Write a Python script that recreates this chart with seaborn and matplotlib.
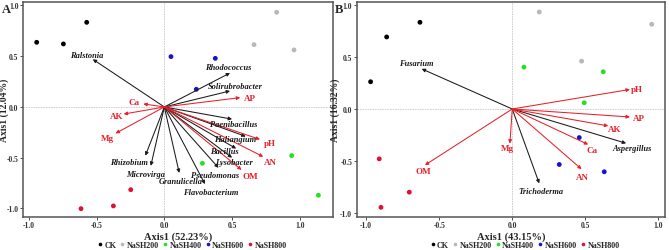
import matplotlib
matplotlib.use("Agg")
import matplotlib.pyplot as plt
import seaborn as sns
import pandas as pd

# ---------------- data ----------------
groups = ["CK", "NaSH200", "NaSH400", "NaSH600", "NaSH800"]
group_colors = ["#000000", "#b8b8b8", "#22e022", "#1414cc", "#e01030"]

# Panel A sample scores
a_group = ["CK"] * 3 + ["NaSH200"] * 3 + ["NaSH400"] * 3 + ["NaSH600"] * 3 + ["NaSH800"] * 3
a_x = [-0.942, -0.745, -0.573, 0.829, 0.662, 0.957, 0.281, 0.940, 1.137,
       0.049, 0.376, 0.236, -0.248, -0.376, -0.615]
a_y = [0.637, 0.621, 0.834, 0.933, 0.614, 0.562, -0.555, -0.479, -0.870,
       0.496, 0.479, 0.174, -0.815, -0.975, -1.002]

# Panel A species arrows
a_sp_names = ["Ralstonia", "Rhodococcus", "Solirubrobacter", "Paenibacillus", "Haliangium",
              "Bacillus", "Lysobacter", "Pseudomonas", "Flavobacterium", "Granulicella",
              "Microvirga", "Rhizobium"]
a_sp_x = [-0.528, 0.485, 0.485, 0.50, 0.60, 0.53, 0.50, 0.40, 0.30, 0.11, -0.10, -0.14]
a_sp_y = [0.470, 0.335, 0.158, -0.12, -0.29, -0.41, -0.50, -0.60, -0.76, -0.65, -0.58, -0.48]
a_sp_lx = [-0.57, 0.468, 0.52, 0.51, 0.52, 0.44, 0.51, 0.374, 0.34, 0.12, -0.14, -0.26]
a_sp_ly = [0.51, 0.397, 0.21, -0.165, -0.32, -0.43, -0.545, -0.67, -0.835, -0.73, -0.66, -0.545]

# Panel A environmental arrows
a_env_names = ["AP", "Ca", "AK", "Mg", "pH", "AN", "OM"]
a_env_x = [0.56, -0.155, -0.30, -0.36, 0.706, 0.73, 0.57]
a_env_y = [0.092, 0.03, -0.07, -0.26, -0.32, -0.49, -0.62]
a_env_lx = [0.635, -0.22, -0.35, -0.42, 0.78, 0.78, 0.635]
a_env_ly = [0.085, 0.045, -0.086, -0.31, -0.355, -0.545, -0.685]

# Panel B sample scores
b_group = ["CK"] * 3 + ["NaSH200"] * 3 + ["NaSH400"] * 3 + ["NaSH600"] * 3 + ["NaSH800"] * 3
b_x = [-0.632, -0.86, -0.97, 0.185, 0.955, 0.475, 0.08, 0.623, 0.493,
       0.459, 0.322, 0.63, -0.911, -0.705, -0.899]
b_y = [0.834, 0.693, 0.262, 0.933, 0.815, 0.46, 0.403, 0.358, 0.06,
       -0.275, -0.534, -0.604, -0.48, -0.80, -0.946]

# Panel B species arrows
b_sp_names = ["Fusarium", "Aspergillus", "Trichoderma"]
b_sp_x = [-0.62, 0.78, 0.185]
b_sp_y = [0.386, -0.33, -0.716]
b_sp_lx = [-0.655, 0.82, 0.20]
b_sp_ly = [0.44, -0.375, -0.79]

# Panel B environmental arrows
b_env_names = ["pH", "AP", "AK", "Ca", "AN", "Mg", "OM"]
b_env_x = [0.806, 0.806, 0.658, 0.52, 0.475, -0.016, -0.598]
b_env_y = [0.188, -0.077, -0.163, -0.342, -0.579, -0.333, -0.54]
b_env_lx = [0.85, 0.865, 0.70, 0.55, 0.48, -0.03, -0.61]
b_env_ly = [0.195, -0.083, -0.19, -0.397, -0.652, -0.38, -0.594]

ticks = [-1.0, -0.5, 0.0, 0.5, 1.0]
tick_labels = ["-1.0", "-0.5", "0.0", "0.5", "1.0"]

# ---------------- style ----------------
sns.set_theme(style="white")
plt.rcParams["font.family"] = ["Liberation Serif", "DejaVu Serif"]
plt.rcParams["font.weight"] = "bold"
plt.rcParams["axes.unicode_minus"] = False

fig = plt.figure(figsize=(6.69, 2.51), dpi=100)
axA = fig.add_axes([0.0344, 0.1315, 0.4634, 0.8565])
axB = fig.add_axes([0.533, 0.1315, 0.461, 0.8565])

palette = dict(zip(groups, group_colors))
SP_COLOR = "#1a1a1a"
ENV_COLOR = "#e8202a"


def panel(ax, gx, gy, gg, spn, spx, spy, splx, sply, en, ex, ey, elx, ely,
          xlim, ylim, xlabel, ylabel, ylab_x):
    df = pd.DataFrame({"x": gx, "y": gy, "group": gg})
    ax.axhline(0, color="#c8c8c8", lw=0.6, ls=(0, (2, 1)), zorder=0)
    ax.axvline(0, color="#c8c8c8", lw=0.6, ls=(0, (2, 1)), zorder=0)
    sns.scatterplot(data=df, x="x", y="y", hue="group", hue_order=groups,
                    palette=palette, s=12, linewidth=0, ax=ax, zorder=3)
    for n, x, y, lx, ly in zip(spn, spx, spy, splx, sply):
        ax.annotate("", xy=(x, y), xytext=(0, 0),
                    arrowprops=dict(arrowstyle="-|>", color=SP_COLOR, lw=0.75,
                                    mutation_scale=5, shrinkA=0, shrinkB=0))
        ax.text(lx, ly, n, ha="center", va="center", fontsize=6,
                fontstyle="italic", fontweight="bold", color=SP_COLOR, zorder=4)
    for n, x, y, lx, ly in zip(en, ex, ey, elx, ely):
        ax.annotate("", xy=(x, y), xytext=(0, 0),
                    arrowprops=dict(arrowstyle="-|>", color=ENV_COLOR, lw=0.75,
                                    mutation_scale=5, shrinkA=0, shrinkB=0))
        ax.text(lx, ly, n, ha="center", va="center", fontsize=6.5,
                fontweight="bold", color=ENV_COLOR, zorder=4)
    ax.set_xlim(*xlim)
    ax.set_ylim(*ylim)
    ax.set_xticks(ticks)
    ax.set_xticklabels(tick_labels)
    ax.set_yticks(ticks)
    ax.set_yticklabels(tick_labels)
    ax.tick_params(axis="both", labelsize=5.5, length=2, width=0.6, pad=1.2,
                   colors="#333333", bottom=True, left=True)
    for t in ax.get_xticklabels() + ax.get_yticklabels():
        t.set_fontweight("bold")
    ax.set_xlabel(xlabel, fontsize=7.5, fontweight="bold", labelpad=1.5)
    ax.set_ylabel(ylabel, fontsize=7, fontweight="bold")
    ax.yaxis.set_label_coords(ylab_x, 0.5)
    for s in ax.spines.values():
        s.set_color("#555555")
        s.set_linewidth(1.1)
    sns.move_legend(ax, "center", bbox_to_anchor=(0.547, -0.128), ncol=5,
                    frameon=False, title=None, fontsize=5.8, handletextpad=0.35,
                    handlelength=0.4, columnspacing=0.55, markerscale=0.75,
                    borderaxespad=0, borderpad=0)
    for t in ax.get_legend().get_texts():
        t.set_fontweight("bold")


panel(axA, a_x, a_y, a_group, a_sp_names, a_sp_x, a_sp_y, a_sp_lx, a_sp_ly,
      a_env_names, a_env_x, a_env_y, a_env_lx, a_env_ly,
      (-1.043, 1.245), (-1.084, 1.034), "Axis1 (52.23%)", "Axis1 (12.04%)", -0.045)
panel(axB, b_x, b_y, b_group, b_sp_names, b_sp_x, b_sp_y, b_sp_lx, b_sp_ly,
      b_env_names, b_env_x, b_env_y, b_env_lx, b_env_ly,
      (-1.066, 1.046), (-1.039, 1.029), "Axis1 (43.15%)", "Axis1 (16.32%)", -0.055)

fig.text(6 / 669, 1 - 10 / 251, "A", fontsize=9, fontweight="bold",
         ha="center", va="center")
fig.text(339.5 / 669, 1 - 10 / 251, "B", fontsize=9, fontweight="bold",
         ha="center", va="center")

fig.savefig("out.png", dpi=100)
